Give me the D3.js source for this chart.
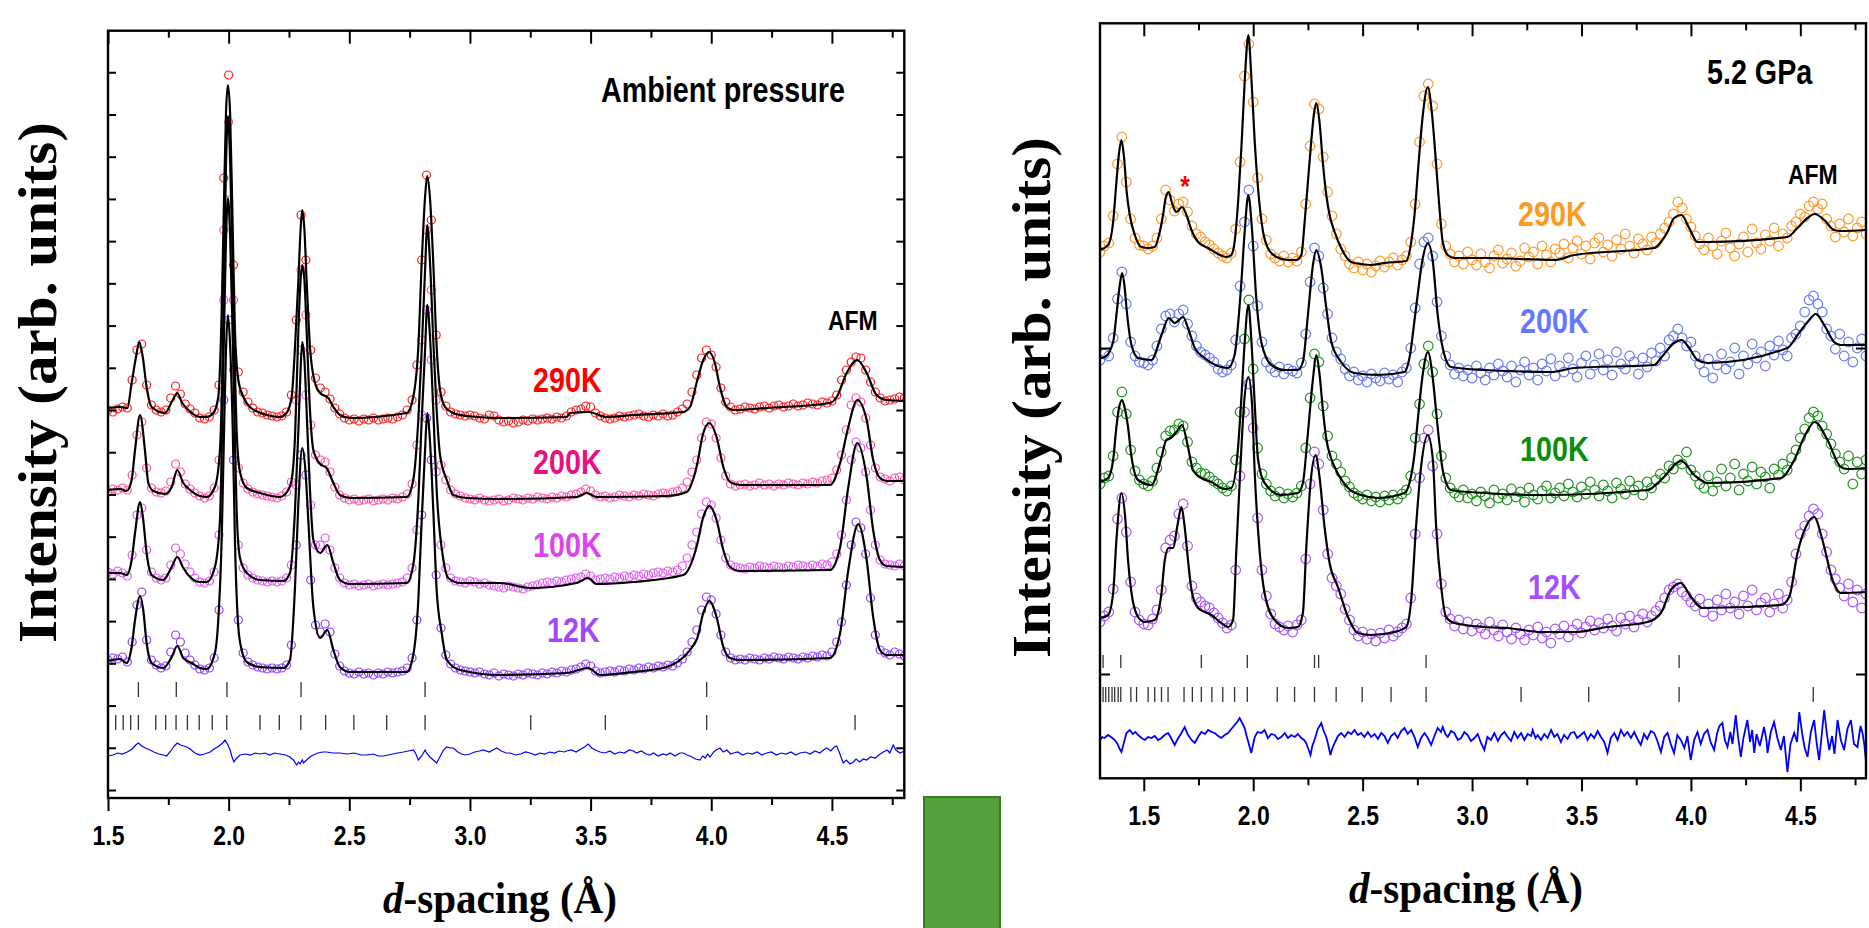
<!DOCTYPE html>
<html>
<head>
<meta charset="utf-8">
<script src="https://cdn.jsdelivr.net/npm/d3@7"></script>
<style>
body { margin: 0; background: #fff; }
.narrow { font-family: "Liberation Sans", Arial, sans-serif; font-weight: bold; }
.serif { font-family: "Liberation Serif", "Times New Roman", serif; font-weight: bold; }
</style>
</head>
<body>
<svg id="chart"></svg>
<script>
// observed points sit on a regular d-spacing grid (start, step 0.02 A)
const leftStart = 1.5, rightStart = 1.3, obsStep = 0.02;

// ---------- ambient pressure (left) ----------
const left290Obs = [
380,378,381,383,382,410,440,446,405,385,380,378,380,392,404,396,386,381,377,372,
371,373,380,405,612,715,525,418,398,388,382,378,377,375,374,373,374,378,395,470,
575,530,440,412,402,398,391,382,376,372,370,371,369,371,370,372,370,371,372,371,
373,375,380,390,425,530,615,570,455,398,384,378,376,375,374,375,374,372,371,375,
374,370,368,369,367,368,370,369,371,370,371,372,371,373,372,374,378,380,381,384,
383,377,374,372,371,372,374,373,374,375,376,374,373,375,374,376,374,375,378,381,
386,398,415,432,440,435,423,402,388,383,380,381,383,382,381,383,384,382,384,385,
383,384,386,384,385,387,386,385,388,387,389,395,410,420,428,433,432,420,408,398,
392,389,390,391,393,392];
const left200Obs = [
298,301,300,302,300,315,355,368,322,302,298,297,299,308,326,318,306,301,297,294,
292,294,302,330,560,668,490,322,307,301,298,296,295,294,293,292,294,298,308,390,
520,475,365,335,330,328,318,303,295,292,290,291,289,290,291,289,290,291,290,292,
291,293,296,306,345,450,560,500,390,325,310,300,296,294,292,291,290,292,290,289,
290,291,289,290,292,291,290,292,291,293,292,291,293,292,294,293,295,296,298,301,
299,295,293,294,292,293,295,294,293,295,294,296,295,294,296,297,296,298,299,302,
308,318,330,352,368,366,352,332,314,306,304,305,306,304,305,307,305,306,304,306,
305,307,306,305,307,306,308,307,309,310,312,320,335,360,385,392,388,372,345,322,
313,311,309,312,313,310];
const left100Obs = [
218,216,219,217,214,235,275,282,240,218,212,210,212,225,242,236,226,218,212,208,
207,209,218,255,490,590,420,245,222,215,212,210,209,208,209,208,209,212,225,305,
440,395,285,245,245,252,240,222,212,207,205,206,204,205,206,204,205,206,205,206,
207,208,212,222,260,375,480,430,318,245,222,212,209,208,207,209,208,206,207,205,
204,203,202,204,203,202,201,203,204,205,207,208,207,209,208,210,211,212,213,216,
214,210,211,212,211,213,212,214,213,215,214,216,215,217,218,217,219,218,220,224,
232,245,258,276,288,285,272,250,232,225,223,222,221,223,222,224,223,222,224,223,
222,224,223,225,224,223,225,224,226,225,228,236,255,290,330,348,342,318,280,245,
230,226,225,224,226,224];
const left12Obs = [
130,132,131,133,128,148,185,198,150,130,125,122,124,138,155,148,137,130,125,121,
120,122,132,180,390,470,330,170,137,128,125,123,122,121,122,121,122,125,145,245,
335,315,210,165,158,166,158,136,124,119,117,116,118,116,117,115,117,116,118,117,
118,119,122,132,170,275,372,330,215,162,135,126,122,120,119,118,117,118,116,115,
117,114,116,115,114,116,115,117,116,115,117,116,118,117,119,118,120,121,123,126,
124,119,117,118,119,118,120,119,121,120,122,121,123,122,124,123,125,124,127,131,
138,148,160,180,193,190,176,155,138,132,130,131,130,132,131,130,132,131,133,132,
131,133,132,131,133,132,134,133,135,134,138,148,168,205,245,268,262,236,192,155,
140,137,135,138,136,134];

const left290Calc = [[1.5,382],[1.55,383],[1.58,382],[1.598,407],[1.616,433],[1.63,448],[1.644,433],[1.66,403],[1.681,383],[1.736,377],[1.768,390],[1.787,397],[1.805,388],[1.833,380],[1.881,373],[1.909,373],[1.937,377],[1.957,393],[1.971,477],[1.981,593],[1.989,677],[1.997,705],[2.006,677],[2.017,560],[2.026,460],[2.04,410],[2.061,393],[2.088,383],[2.158,375],[2.213,373],[2.24,377],[2.261,393],[2.275,443],[2.289,510],[2.298,560],[2.305,580],[2.314,560],[2.323,510],[2.337,443],[2.358,407],[2.379,397],[2.413,392],[2.434,383],[2.461,375],[2.503,372],[2.738,377],[2.765,393],[2.786,443],[2.8,527],[2.814,593],[2.823,614],[2.834,593],[2.848,527],[2.862,443],[2.876,400],[2.897,383],[2.931,377],[2.986,374],[3.125,372],[3.401,373],[3.414,377],[3.49,378],[3.567,373],[3.677,375],[3.884,378],[3.912,383],[3.939,407],[3.967,430],[3.991,438],[4.015,427],[4.036,403],[4.064,383],[4.092,380],[4.23,382],[4.492,387],[4.52,393],[4.561,417],[4.605,430],[4.644,417],[4.685,395],[4.727,390],[4.8,389]];
const left200Calc = [[1.5,300],[1.55,301],[1.577,299],[1.598,310],[1.612,340],[1.633,375],[1.653,340],[1.667,307],[1.688,299],[1.736,296],[1.764,303],[1.787,320],[1.812,307],[1.84,300],[1.881,294],[1.909,293],[1.943,303],[1.964,340],[1.973,410],[1.981,520],[1.989,625],[1.997,674],[2.006,630],[2.017,520],[2.026,420],[2.033,360],[2.047,318],[2.075,302],[2.13,297],[2.213,293],[2.247,300],[2.261,310],[2.275,353],[2.289,460],[2.298,510],[2.305,525],[2.314,510],[2.323,460],[2.337,380],[2.351,340],[2.379,326],[2.406,322],[2.434,307],[2.461,295],[2.503,292],[2.738,293],[2.765,310],[2.786,370],[2.8,440],[2.814,520],[2.823,565],[2.834,530],[2.848,450],[2.862,380],[2.876,335],[2.904,310],[2.931,295],[2.986,292],[3.125,291],[3.442,293],[3.484,297],[3.525,293],[3.815,294],[3.898,298],[3.939,323],[3.967,357],[3.992,367],[4.022,353],[4.05,323],[4.078,308],[4.119,305],[4.492,305],[4.534,327],[4.568,363],[4.605,390],[4.644,370],[4.671,330],[4.699,312],[4.727,309],[4.8,309]];
const left100Calc = [[1.5,217],[1.55,217],[1.577,215],[1.598,230],[1.612,257],[1.633,288],[1.646,270],[1.66,237],[1.681,215],[1.729,210],[1.764,223],[1.787,233],[1.812,222],[1.84,213],[1.881,208],[1.909,208],[1.943,223],[1.964,270],[1.973,360],[1.981,460],[1.989,550],[1.997,592],[2.006,555],[2.017,450],[2.026,350],[2.033,280],[2.047,232],[2.075,217],[2.13,210],[2.227,209],[2.254,217],[2.275,280],[2.289,360],[2.298,420],[2.305,448],[2.314,430],[2.323,380],[2.337,300],[2.351,250],[2.379,237],[2.409,245],[2.434,227],[2.461,210],[2.503,206],[2.738,207],[2.765,225],[2.786,290],[2.8,370],[2.814,440],[2.823,485],[2.834,455],[2.848,380],[2.862,300],[2.89,230],[2.91,212],[2.959,207],[3.125,207],[3.249,202],[3.442,207],[3.49,212],[3.525,206],[3.677,208],[3.884,215],[3.939,243],[3.967,273],[3.992,284],[4.022,270],[4.05,240],[4.078,223],[4.119,219],[4.492,220],[4.534,243],[4.568,303],[4.605,347],[4.644,313],[4.671,260],[4.699,230],[4.727,224],[4.8,223]];
const left12Calc = [[1.5,129],[1.55,131],[1.577,127],[1.598,143],[1.612,170],[1.633,194],[1.646,180],[1.66,147],[1.681,127],[1.729,122],[1.764,133],[1.787,144],[1.812,132],[1.847,127],[1.881,122],[1.909,121],[1.943,137],[1.957,170],[1.971,250],[1.981,360],[1.989,440],[1.997,475],[2.006,445],[2.017,360],[2.026,250],[2.04,163],[2.054,140],[2.075,128],[2.13,123],[2.227,122],[2.254,130],[2.275,203],[2.289,287],[2.305,342],[2.318,320],[2.33,270],[2.351,183],[2.379,152],[2.409,160],[2.434,140],[2.461,123],[2.503,118],[2.738,118],[2.765,135],[2.786,190],[2.8,270],[2.814,340],[2.823,377],[2.834,350],[2.848,280],[2.862,200],[2.883,157],[2.904,130],[2.959,120],[3.125,115],[3.401,117],[3.49,122],[3.539,115],[3.677,118],[3.815,123],[3.939,150],[3.967,177],[3.992,189],[4.022,173],[4.05,143],[4.078,132],[4.119,130],[4.492,132],[4.534,157],[4.568,220],[4.609,266],[4.644,230],[4.671,173],[4.699,140],[4.727,135],[4.8,135]];

const leftDiff = [[1.5,34],[1.52,35],[1.54,37],[1.56,36],[1.58,38],[1.6,41],[1.615,45],[1.626,47],[1.64,44],[1.655,42],[1.674,40],[1.69,38],[1.71,36],[1.73,35],[1.743,34],[1.76,39],[1.775,44],[1.787,47],[1.8,45],[1.815,44],[1.826,43],[1.84,41],[1.86,37],[1.881,35],[1.9,36],[1.923,38],[1.94,41],[1.96,44],[1.975,47],[1.985,50],[1.995,46],[2.006,40],[2.014,33],[2.022,28],[2.03,31],[2.047,35],[2.07,36],[2.09,35],[2.11,37],[2.13,36],[2.15,37],[2.17,35],[2.19,37],[2.213,36],[2.235,35],[2.254,33],[2.268,30],[2.282,25],[2.29,28],[2.296,26],[2.305,30],[2.31,27],[2.323,30],[2.336,33],[2.351,35],[2.37,37],[2.39,38],[2.406,38],[2.43,37],[2.461,37],[2.49,36],[2.52,37],[2.55,35],[2.572,35],[2.6,36],[2.62,34],[2.641,34],[2.66,35],[2.68,36],[2.7,37],[2.724,38],[2.745,39],[2.766,40],[2.776,36],[2.786,30],[2.8,34],[2.814,40],[2.82,37],[2.834,33],[2.848,30],[2.862,27],[2.875,33],[2.89,40],[2.904,43],[2.92,42],[2.931,42],[2.95,38],[2.965,36],[2.98,35],[3.0,36],[3.02,38],[3.04,39],[3.056,40],[3.08,38],[3.095,40],[3.111,42],[3.13,39],[3.15,37],[3.166,37],[3.19,35],[3.21,36],[3.23,38],[3.249,37],[3.27,35],[3.29,37],[3.31,36],[3.33,38],[3.35,37],[3.37,39],[3.39,38],[3.401,39],[3.42,40],[3.44,38],[3.46,41],[3.475,43],[3.49,46],[3.505,42],[3.52,40],[3.539,38],[3.56,37],[3.58,39],[3.6,36],[3.62,38],[3.64,37],[3.66,40],[3.677,39],[3.69,37],[3.71,39],[3.73,36],[3.746,35],[3.76,37],[3.78,34],[3.8,36],[3.815,35],[3.83,37],[3.85,34],[3.87,37],[3.884,37],[3.9,35],[3.92,33],[3.935,31],[3.953,30],[3.965,34],[3.975,32],[3.985,36],[3.995,33],[4.01,38],[4.02,40],[4.036,42],[4.05,38],[4.065,40],[4.08,36],[4.092,37],[4.11,38],[4.13,35],[4.15,37],[4.17,36],[4.19,38],[4.21,35],[4.23,37],[4.25,38],[4.27,35],[4.29,37],[4.31,36],[4.33,38],[4.35,35],[4.368,37],[4.39,38],[4.41,36],[4.43,39],[4.45,37],[4.465,40],[4.479,42],[4.495,39],[4.51,43],[4.52,44],[4.53,38],[4.547,27],[4.56,30],[4.575,26],[4.589,28],[4.6,31],[4.615,28],[4.63,31],[4.644,30],[4.66,33],[4.68,32],[4.7,36],[4.713,38],[4.73,40],[4.74,37],[4.754,45],[4.765,40],[4.782,37],[4.8,39]];

const leftBraggNuclear = [1.626,1.783,1.993,2.300,2.814,3.981];
const leftBraggMagnetic = [1.532,1.563,1.594,1.626,1.698,1.739,1.782,1.829,1.878,1.932,1.992,2.130,2.210,2.299,2.402,2.519,2.655,2.814,3.252,3.561,3.981,4.596];

// ---------- 5.2 GPa (right) ----------
const right290Obs = [
422,428,431,458,510,537,492,455,436,429,428,425,428,436,455,484,474,463,470,472,
462,448,440,437,432,429,425,421,418,416,421,445,512,598,630,572,496,455,434,420,
416,413,418,412,416,413,422,470,528,570,565,517,482,458,440,425,418,410,406,412,
404,410,402,408,413,407,412,416,409,414,418,432,470,532,578,590,568,510,450,428,
420,412,418,410,422,414,409,420,412,406,418,424,411,415,421,408,413,426,417,422,
410,428,419,412,425,421,430,416,426,433,420,428,415,431,436,422,429,418,434,425,
440,428,421,435,430,424,437,431,440,446,452,460,472,466,455,447,438,430,424,436,
428,420,433,441,426,418,430,437,422,445,431,425,439,433,446,428,440,436,448,452,
460,457,468,472,465,470,455,448,437,450,442,455,438,446,452,440];
const right200Obs = [
314,320,318,336,375,402,370,332,318,312,311,309,314,328,345,358,360,352,360,364,
350,338,328,322,319,316,312,305,302,304,309,334,388,452,484,428,368,332,312,306,
302,307,300,305,303,301,311,340,392,426,418,386,360,336,322,315,305,298,302,294,
298,292,300,296,293,301,295,299,292,302,306,326,366,410,432,436,418,372,338,318,
309,300,306,298,304,296,308,301,294,306,299,310,303,297,308,292,304,312,299,306,
294,310,303,315,298,308,302,316,305,297,311,318,300,309,320,304,314,299,322,310,
305,318,312,300,316,307,321,313,326,318,334,338,345,336,328,332,318,310,302,315,
296,309,320,305,312,326,300,318,310,330,316,322,308,328,319,333,324,318,336,340,
348,362,374,378,370,362,345,338,325,340,318,332,312,326,335,318];
const right100Obs = [
190,196,198,218,262,282,260,224,203,194,190,188,193,206,222,238,243,244,250,248,
232,212,206,201,200,197,193,190,186,183,188,214,262,335,374,305,226,200,190,183,
178,182,176,180,177,181,188,226,276,320,312,268,238,218,210,202,193,187,181,178,
175,179,173,177,172,178,174,179,175,180,184,198,236,270,310,328,302,260,218,196,
186,181,177,184,176,180,173,182,178,171,184,176,180,174,185,177,182,172,186,179,
175,183,188,176,181,186,178,190,182,177,187,180,192,184,178,189,183,176,191,185,
180,193,184,188,179,192,186,194,200,196,208,205,214,210,222,204,198,190,186,198,
183,192,205,188,196,210,184,200,193,207,190,202,197,186,205,199,210,204,216,224,
236,245,256,262,258,248,240,230,220,212,205,218,190,212,200,214];
const right12Obs = [
52,58,62,85,155,176,142,92,62,54,50,49,55,64,84,126,134,138,160,170,
128,88,76,72,68,66,61,56,51,46,49,104,198,262,290,246,156,104,78,60,
50,47,44,48,42,49,54,115,190,222,210,164,120,96,88,80,65,54,44,38,
42,35,40,33,41,36,44,38,42,46,50,76,140,196,236,244,208,140,90,62,
55,48,54,45,52,43,50,46,40,52,44,38,49,42,35,46,40,34,44,39,
47,36,42,31,45,40,48,37,44,50,41,47,53,44,51,46,55,48,43,56,
50,58,47,54,60,52,58,63,68,76,84,87,90,82,78,72,68,75,62,70,
58,74,64,80,66,72,60,78,68,84,64,71,76,62,70,80,66,74,92,120,
140,148,158,165,160,140,122,104,95,86,78,90,72,84,66,80];

const right290Calc = [[1.3,424],[1.337,429],[1.36,452],[1.375,492],[1.386,519],[1.398,534],[1.41,516],[1.422,482],[1.436,459],[1.459,439],[1.489,427],[1.52,426],[1.55,427],[1.573,442],[1.588,459],[1.6,476],[1.614,482],[1.629,471],[1.649,462],[1.675,467],[1.695,459],[1.718,444],[1.748,432],[1.794,426],[1.839,420],[1.877,417],[1.9,419],[1.915,432],[1.931,472],[1.946,526],[1.961,592],[1.978,639],[1.991,599],[2.007,532],[2.022,486],[2.045,442],[2.067,426],[2.106,417],[2.159,414],[2.197,414],[2.22,419],[2.235,452],[2.25,492],[2.265,532],[2.277,559],[2.288,571],[2.303,552],[2.318,512],[2.334,479],[2.349,459],[2.372,442],[2.402,426],[2.448,412],[2.493,410],[2.539,409],[2.6,411],[2.699,413],[2.722,432],[2.737,459],[2.755,509],[2.775,559],[2.798,587],[2.816,562],[2.836,509],[2.851,466],[2.866,432],[2.889,419],[2.919,416],[3.056,416],[3.376,414],[3.467,419],[3.832,426],[3.863,432],[3.893,442],[3.923,456],[3.957,459],[3.992,446],[4.03,432],[4.076,432],[4.441,437],[4.487,446],[4.533,456],[4.566,460],[4.609,454],[4.654,444],[4.685,443],[4.8,444]];
const right200Calc = [[1.3,316],[1.322,317],[1.36,332],[1.375,359],[1.388,385],[1.401,401],[1.412,388],[1.421,366],[1.444,329],[1.474,316],[1.535,314],[1.581,339],[1.614,356],[1.641,351],[1.68,357],[1.702,346],[1.733,326],[1.778,316],[1.854,307],[1.885,306],[1.915,319],[1.931,350],[1.946,392],[1.961,442],[1.978,479],[1.994,446],[2.014,376],[2.037,332],[2.083,309],[2.144,304],[2.204,304],[2.227,312],[2.25,359],[2.273,409],[2.288,424],[2.311,406],[2.334,366],[2.357,332],[2.402,312],[2.463,301],[2.57,299],[2.691,302],[2.714,316],[2.744,366],[2.775,416],[2.798,431],[2.821,412],[2.843,359],[2.866,326],[2.904,307],[3.056,304],[3.361,302],[3.467,306],[3.832,309],[3.863,316],[3.923,331],[3.957,334],[3.992,326],[4.03,314],[4.076,311],[4.441,326],[4.487,339],[4.533,352],[4.571,360],[4.609,349],[4.654,332],[4.685,329],[4.8,329]];
const right100Calc = [[1.3,192],[1.337,196],[1.36,214],[1.375,247],[1.386,265],[1.401,274],[1.414,265],[1.428,247],[1.444,217],[1.474,194],[1.535,189],[1.581,217],[1.603,234],[1.623,236],[1.649,242],[1.675,249],[1.702,227],[1.725,204],[1.763,196],[1.809,192],[1.87,185],[1.9,186],[1.931,227],[1.946,276],[1.961,331],[1.978,369],[1.991,336],[2.007,270],[2.022,215],[2.052,191],[2.128,179],[2.204,181],[2.227,191],[2.25,241],[2.273,295],[2.288,319],[2.303,300],[2.318,265],[2.334,235],[2.357,215],[2.372,207],[2.433,186],[2.493,179],[2.57,176],[2.691,181],[2.714,191],[2.737,220],[2.752,254],[2.775,300],[2.798,322],[2.821,295],[2.836,262],[2.851,230],[2.866,204],[2.904,184],[3.056,181],[3.315,179],[3.802,184],[3.863,194],[3.957,213],[4.015,199],[4.076,191],[4.411,196],[4.472,214],[4.52,238],[4.566,252],[4.624,234],[4.685,207],[4.715,205],[4.8,206]];
const right12Calc = [[1.3,56],[1.337,59],[1.36,81],[1.375,134],[1.398,181],[1.416,154],[1.428,114],[1.444,81],[1.474,57],[1.505,52],[1.55,54],[1.581,81],[1.596,114],[1.614,126],[1.634,126],[1.655,150],[1.672,167],[1.687,147],[1.702,114],[1.718,84],[1.748,66],[1.809,59],[1.854,51],[1.885,47],[1.908,54],[1.923,124],[1.938,191],[1.958,270],[1.978,297],[1.994,272],[2.007,201],[2.029,124],[2.052,81],[2.098,54],[2.159,46],[2.204,47],[2.227,61],[2.242,124],[2.262,191],[2.285,219],[2.303,197],[2.326,147],[2.349,111],[2.387,87],[2.433,57],[2.478,41],[2.539,39],[2.646,42],[2.699,47],[2.722,74],[2.744,147],[2.767,207],[2.798,239],[2.821,214],[2.836,147],[2.859,87],[2.881,57],[2.919,51],[3.056,47],[3.163,46],[3.315,42],[3.467,42],[3.619,47],[3.802,52],[3.863,61],[3.908,84],[3.954,91],[4.0,77],[4.053,66],[4.411,69],[4.449,77],[4.487,121],[4.525,147],[4.563,157],[4.601,134],[4.647,94],[4.685,81],[4.8,82]];

const rightDiff = [[1.3,-66],[1.31,-63],[1.32,-64],[1.337,-61],[1.35,-63],[1.368,-66],[1.38,-70],[1.39,-75],[1.398,-78],[1.41,-68],[1.421,-59],[1.436,-56],[1.45,-60],[1.462,-58],[1.474,-61],[1.49,-64],[1.505,-66],[1.52,-63],[1.535,-64],[1.55,-62],[1.565,-66],[1.581,-64],[1.595,-61],[1.611,-59],[1.625,-64],[1.641,-71],[1.655,-65],[1.672,-59],[1.687,-53],[1.7,-60],[1.718,-66],[1.733,-69],[1.748,-63],[1.763,-58],[1.78,-60],[1.794,-56],[1.81,-58],[1.824,-59],[1.84,-62],[1.854,-64],[1.87,-61],[1.885,-59],[1.9,-55],[1.915,-51],[1.93,-47],[1.938,-44],[1.95,-49],[1.961,-54],[1.97,-62],[1.979,-69],[1.991,-79],[2.0,-70],[2.007,-63],[2.02,-58],[2.037,-59],[2.052,-56],[2.067,-64],[2.083,-60],[2.098,-61],[2.113,-65],[2.128,-63],[2.144,-59],[2.159,-64],[2.174,-61],[2.19,-63],[2.204,-60],[2.22,-64],[2.232,-66],[2.242,-69],[2.252,-75],[2.262,-81],[2.27,-72],[2.28,-66],[2.295,-55],[2.311,-49],[2.322,-57],[2.334,-63],[2.344,-72],[2.353,-81],[2.362,-74],[2.372,-69],[2.387,-62],[2.402,-59],[2.418,-63],[2.433,-58],[2.448,-60],[2.463,-56],[2.478,-61],[2.493,-59],[2.508,-63],[2.524,-58],[2.539,-63],[2.555,-60],[2.57,-65],[2.585,-59],[2.6,-62],[2.615,-69],[2.63,-62],[2.646,-59],[2.66,-64],[2.676,-57],[2.691,-54],[2.706,-60],[2.722,-56],[2.737,-63],[2.752,-73],[2.767,-64],[2.783,-59],[2.798,-64],[2.813,-71],[2.828,-62],[2.843,-54],[2.858,-58],[2.866,-53],[2.878,-60],[2.889,-63],[2.904,-57],[2.919,-59],[2.935,-66],[2.95,-64],[2.965,-58],[2.98,-61],[2.995,-67],[3.011,-64],[3.026,-60],[3.041,-69],[3.056,-76],[3.07,-63],[3.086,-66],[3.102,-59],[3.118,-67],[3.133,-61],[3.148,-58],[3.163,-63],[3.178,-67],[3.193,-58],[3.208,-64],[3.224,-59],[3.239,-66],[3.254,-60],[3.27,-62],[3.277,-56],[3.29,-64],[3.3,-61],[3.315,-66],[3.33,-60],[3.345,-64],[3.361,-56],[3.376,-63],[3.39,-60],[3.406,-68],[3.42,-61],[3.436,-65],[3.451,-59],[3.467,-58],[3.48,-64],[3.497,-61],[3.512,-58],[3.528,-66],[3.543,-60],[3.558,-64],[3.574,-57],[3.589,-63],[3.604,-68],[3.619,-79],[3.634,-64],[3.65,-59],[3.665,-66],[3.68,-56],[3.695,-62],[3.71,-58],[3.726,-64],[3.741,-58],[3.756,-65],[3.771,-71],[3.786,-60],[3.8,-65],[3.817,-57],[3.832,-59],[3.847,-67],[3.863,-78],[3.878,-63],[3.893,-59],[3.908,-70],[3.923,-79],[3.938,-61],[3.954,-66],[3.97,-74],[3.984,-62],[3.999,-86],[4.015,-66],[4.03,-58],[4.045,-70],[4.06,-60],[4.076,-56],[4.09,-68],[4.106,-76],[4.12,-59],[4.13,-52],[4.144,-49],[4.155,-66],[4.167,-73],[4.18,-58],[4.19,-70],[4.205,-41],[4.215,-62],[4.228,-83],[4.24,-64],[4.258,-46],[4.27,-68],[4.28,-56],[4.289,-79],[4.3,-60],[4.315,-72],[4.334,-53],[4.345,-66],[4.35,-79],[4.365,-58],[4.38,-48],[4.395,-64],[4.411,-76],[4.425,-62],[4.441,-98],[4.455,-70],[4.472,-59],[4.485,-68],[4.495,-38],[4.51,-62],[4.52,-74],[4.533,-83],[4.548,-58],[4.563,-46],[4.575,-70],[4.586,-86],[4.598,-60],[4.609,-36],[4.62,-58],[4.632,-76],[4.645,-62],[4.656,-80],[4.67,-46],[4.685,-66],[4.7,-76],[4.715,-55],[4.731,-46],[4.745,-70],[4.761,-73],[4.775,-52],[4.784,-59],[4.792,-70],[4.8,-88]];

const rightBraggNuclear = [1.314,1.395,1.763,1.973,2.280,2.299,2.790,3.946];
const rightBraggMagnetic = [1.314,1.326,1.340,1.355,1.367,1.383,1.395,1.441,1.467,1.520,1.550,1.581,1.611,1.684,1.722,1.763,1.811,1.861,1.915,1.973,2.110,2.189,2.280,2.379,2.498,2.630,2.790,3.224,3.533,3.946,4.559];

const majorTicks = [1.5, 2.0, 2.5, 3.0, 3.5, 4.0, 4.5];
const minorTicks = [1.75, 2.25, 2.75, 3.25, 3.75, 4.25, 4.75];
const leftTemps = ['290K', '200K', '100K', '12K'];
const rightTemps = ['290K', '200K', '100K', '12K'];

// ---------- drawing ----------
const W = 1869, H = 928;
const NARROW = 0.82;   // squeeze for the condensed sans used in the figure
const svg = d3.select('#chart').attr('width', W).attr('height', H);
svg.append('rect').attr('width', W).attr('height', H).attr('fill', '#fff');

function label(x, y, size, txt, color, anchor) {
  return svg.append('text').attr('class', 'narrow')
    .attr('transform', `translate(${x},${y}) scale(${NARROW},1)`)
    .attr('text-anchor', anchor || 'start')
    .attr('font-size', size).attr('fill', color || '#000').text(txt);
}

function drawPanel(p) {
  const x = d3.scaleLinear().domain(p.dDomain).range([p.left, p.right]);
  const y = d3.scaleLinear().domain(p.vDomain).range([p.bottom, p.top]);

  svg.append('clipPath').attr('id', p.id).append('rect')
    .attr('x', p.left).attr('y', p.top)
    .attr('width', p.right - p.left).attr('height', p.bottom - p.top);
  const plot = svg.append('g').attr('clip-path', `url(#${p.id})`);

  // reflection markers
  p.bragg.forEach(b => {
    plot.append('g').selectAll('line').data(b.d).join('line')
      .attr('x1', d => x(d)).attr('x2', d => x(d))
      .attr('y1', y(b.v[0])).attr('y2', y(b.v[1]))
      .attr('stroke', '#333').attr('stroke-width', 1.3);
  });

  // difference curve
  plot.append('path').datum(p.diff)
    .attr('d', d3.line().x(d => x(d[0])).y(d => y(d[1])))
    .attr('fill', 'none').attr('stroke', '#0000ff').attr('stroke-width', p.diffWidth);

  // observed, lowest curve first
  p.series.slice().reverse().forEach(s => {
    plot.append('g').selectAll('circle').data(s.obs).join('circle')
      .attr('cx', (v, i) => x(p.start + i * obsStep))
      .attr('cy', v => y(v))
      .attr('r', p.r)
      .attr('fill', 'none').attr('stroke', s.color).attr('stroke-width', 1.2);
  });

  // calculated
  const calcLine = d3.line().x(d => x(d[0])).y(d => y(d[1])).curve(d3.curveMonotoneX);
  p.series.forEach(s => {
    plot.append('path').datum(s.calc).attr('d', calcLine)
      .attr('fill', 'none').attr('stroke', '#000').attr('stroke-width', 2.2);
  });

  // axes
  const minor = minorTicks.filter(d => d > p.dDomain[0] && d < p.dDomain[1]);
  const bottomAx = svg.append('g').attr('transform', `translate(0,${p.bottom})`);
  bottomAx.append('g').call(d3.axisBottom(x).tickValues(minor).tickSize(7).tickFormat(''));
  bottomAx.append('g').call(d3.axisBottom(x).tickValues(majorTicks).tickSize(13).tickFormat(d3.format('.1f')));
  const topAx = svg.append('g').attr('transform', `translate(0,${p.top})`);
  topAx.append('g').call(d3.axisTop(x).tickValues(minor).tickSize(-7).tickFormat(''));
  topAx.append('g').call(d3.axisTop(x).tickValues(majorTicks).tickSize(-13).tickFormat(''));
  svg.append('g').attr('transform', `translate(${p.left},0)`)
    .call(d3.axisLeft(y).tickValues(p.yTicks).tickSize(-p.yTick).tickFormat(''));
  svg.append('g').attr('transform', `translate(${p.right},0)`)
    .call(d3.axisRight(y).tickValues(p.yTicks).tickSize(-p.yTick).tickFormat(''));
  svg.selectAll('.domain').remove();
  svg.selectAll('.tick line').attr('stroke-width', 2);
  bottomAx.selectAll('text')
    .attr('class', 'narrow').attr('font-size', 28).attr('fill', '#000')
    .attr('y', 0).attr('dy', 0)
    .attr('transform', `translate(0,${p.labelGap}) scale(${NARROW},1)`);

  svg.append('rect')
    .attr('x', p.left).attr('y', p.top)
    .attr('width', p.right - p.left).attr('height', p.bottom - p.top)
    .attr('fill', 'none').attr('stroke', '#000').attr('stroke-width', 2.4);

  // temperature labels
  p.series.forEach(s => label(s.lx, s.ly, 35, s.name, s.labelColor));

  // axis titles
  svg.append('text').attr('class', 'serif')
    .attr('transform', `translate(${p.yTitle[0]},${p.yTitle[1]}) rotate(-90)`)
    .attr('text-anchor', 'middle').attr('font-size', 54)
    .attr('textLength', 521).attr('lengthAdjust', 'spacingAndGlyphs')
    .text('Intensity (arb. units)');
  const xt = svg.append('text').attr('class', 'serif')
    .attr('x', p.xTitle[0]).attr('y', p.xTitle[1])
    .attr('text-anchor', 'middle').attr('font-size', 44)
    .attr('textLength', 234).attr('lengthAdjust', 'spacingAndGlyphs');
  xt.append('tspan').attr('font-style', 'italic').text('d');
  xt.append('tspan').text('-spacing (\u00c5)');
}

drawPanel({
  id: 'clip-left', left: 108, right: 904.3, top: 30.7, bottom: 798,
  dDomain: [1.5, 4.8], vDomain: [-8, 759.3], start: leftStart, r: 4,
  yTicks: d3.range(0, 740, 42.22), yTick: 8, labelGap: 47,
  diff: leftDiff, diffWidth: 1.2,
  bragg: [{ d: leftBraggNuclear, v: [108, 93] }, { d: leftBraggMagnetic, v: [75, 60] }],
  yTitle: [56, 382.5], xTitle: [500, 913],
  series: [
    { name: leftTemps[0], obs: left290Obs, calc: left290Calc, color: '#ff1a1a', labelColor: '#ff0000', lx: 533, ly: 391.7 },
    { name: leftTemps[1], obs: left200Obs, calc: left200Calc, color: '#ff4fa3', labelColor: '#e8117f', lx: 533, ly: 474 },
    { name: leftTemps[2], obs: left100Obs, calc: left100Calc, color: '#df55f2', labelColor: '#dd44f0', lx: 533, ly: 557 },
    { name: leftTemps[3], obs: left12Obs, calc: left12Calc, color: '#8f3cff', labelColor: '#a347ff', lx: 547, ly: 641.5 }
  ]
});

drawPanel({
  id: 'clip-right', left: 1100, right: 1866, top: 23.3, bottom: 778.3,
  dDomain: [1.3, 4.8], vDomain: [-104.3, 650.7], start: rightStart, r: 4.8,
  yTicks: [0, 326], yTick: 10, labelGap: 47,
  diff: rightDiff, diffWidth: 1.8,
  bragg: [{ d: rightBraggNuclear, v: [19, 6] }, { d: rightBraggMagnetic, v: [-13, -28] }],
  yTitle: [1050, 397.5], xTitle: [1466, 903],
  series: [
    { name: rightTemps[0], obs: right290Obs, calc: right290Calc, color: '#ff9a2a', labelColor: '#ff9a1f', lx: 1518, ly: 225.5 },
    { name: rightTemps[1], obs: right200Obs, calc: right200Calc, color: '#6a7cf0', labelColor: '#6677ff', lx: 1520, ly: 333 },
    { name: rightTemps[2], obs: right100Obs, calc: right100Calc, color: '#1e961e', labelColor: '#0b8c0b', lx: 1520, ly: 460.5 },
    { name: rightTemps[3], obs: right12Obs, calc: right12Calc, color: '#aa55ff', labelColor: '#a64dff', lx: 1528, ly: 599 }
  ]
});

// annotations
label(601, 101.7, 35, 'Ambient pressure');
label(828, 330, 28, 'AFM');
label(1707, 84, 35, '5.2 GPa');
label(1788, 184, 28, 'AFM');
label(1185, 196, 30, '*', '#ff0000', 'middle');

// green block between the panels
svg.append('rect').attr('x', 924).attr('y', 797).attr('width', 76).attr('height', 140)
  .attr('fill', '#55a03c').attr('stroke', '#3b7a28').attr('stroke-width', 2);
</script>
</body>
</html>
